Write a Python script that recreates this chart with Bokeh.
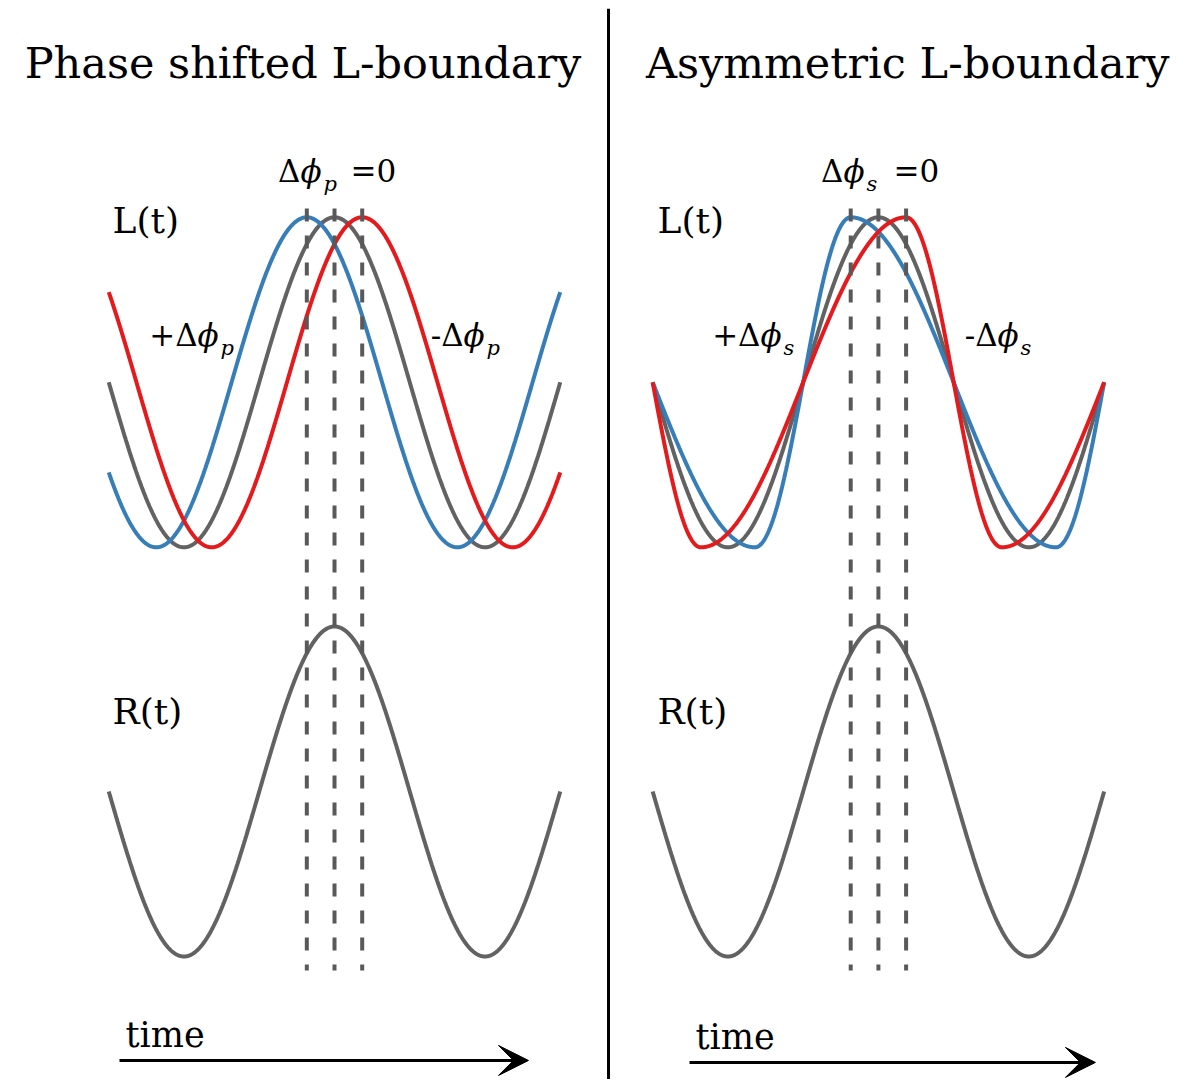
import numpy as np
from bokeh.plotting import figure
from bokeh.models import Range1d, Span, Arrow, VeeHead, Label
from bokeh.embed import file_html
from bokeh.resources import INLINE

# ---------------- data (time in periods, amplitude in units) ----------------
panel_titles = ["Phase shifted L-boundary", "Asymmetric L-boundary"]
panel_offsets = [0.0, 1.807]          # time of the reference peak in each panel
panel_subscripts = ["p", "s"]
curve_names = ["reference", "+dphi", "-dphi"]
curve_colors = ["#626262", "#377eb8", "#e41a1c"]

# knot times of [peak, down-crossing, trough, up-crossing] for each L curve
shift_knots = [
    [0.000, 0.250, 0.500, 0.750],
    [-0.092, 0.158, 0.408, 0.658],
    [0.092, 0.342, 0.592, 0.842],
]
asym_knots = [
    [0.000, 0.250, 0.500, 0.750],
    [-0.092, 0.250, 0.590, 0.750],
    [0.092, 0.250, 0.410, 0.750],
]
panel_knots = [shift_knots, asym_knots]
r_knots = [0.000, 0.250, 0.500, 0.750]
peak_times = [-0.092, 0.0, 0.092]     # dashed marker lines
t_start, t_end = -0.75, 0.75
L_level = 2.48
R_level = 0.0

FONT = "DejaVu Serif"


def waveform(t, knots):
    kt, kp = [], []
    for k in range(-2, 3):
        for i, tk in enumerate(knots):
            kt.append(tk + k)
            kp.append(i * np.pi / 2 + 2 * np.pi * k)
    order = np.argsort(kt)
    phase = np.interp(t, np.array(kt)[order], np.array(kp)[order])
    return np.cos(phase)


p = figure(width=1192, height=1079,
           x_range=Range1d(-1.0831, 2.8505), y_range=Range1d(-1.7455, 4.7455),
           x_axis_type=None, y_axis_type=None,
           output_backend="svg", toolbar_location=None,
           min_border=0, min_border_left=8, min_border_top=8)
p.outline_line_color = None
p.background_fill_color = "white"
p.border_fill_color = "white"

t = np.linspace(t_start, t_end, 800)


def label(x, y, text, size, style="normal", align="left", xoff=0, yoff=0):
    p.add_layout(Label(x=x, y=y, text=text, text_font=FONT,
                       text_font_size=f"{size}px", text_font_style=style,
                       text_align=align, text_baseline="alphabetic",
                       x_offset=xoff, y_offset=yoff + round(0.38 * size),
                       text_color="black"))


MS = 31


def math_label(x, y, prefix, sub, suffix=""):
    if prefix:
        label(x, y, prefix, MS, align="right")
    label(x, y, "\u03d5", MS, style="italic")
    label(x, y, sub, 21, style="italic", xoff=23, yoff=-9)
    if suffix:
        label(x, y, suffix, MS, xoff=50)


for pi_, off in enumerate(panel_offsets):
    # L curves
    for knots, col in zip(panel_knots[pi_], curve_colors):
        p.line(t + off, L_level + waveform(t, knots), line_color=col, line_width=4)
    # R curve
    p.line(t + off, R_level + waveform(t, r_knots), line_color=curve_colors[0], line_width=4)
    # dashed marker lines
    xs = [off + pt for pt in peak_times]
    p.segment(x0=xs, y0=[3.533] * 3, x1=xs, y1=[-1.085] * 3,
              line_color="#595959", line_width=4, line_dash="13 14")

# divider
p.add_layout(Span(location=0.9103, dimension="height", line_color="black", line_width=3))

# titles
label(-0.1047, 4.3152, panel_titles[0], 43, align="center")
label(1.9043, 4.3152, panel_titles[1], 43, align="center")

# math labels
math_label(-0.113, 3.685, "\u0394", panel_subscripts[0], "=0")
math_label(1.691, 3.685, "\u0394", panel_subscripts[1], "=0")
math_label(-0.455, 2.691, "+\u0394", panel_subscripts[0])
math_label(0.4286, 2.691, "-\u0394", panel_subscripts[0])
math_label(1.4153, 2.691, "+\u0394", panel_subscripts[1])
math_label(2.2027, 2.691, "-\u0394", panel_subscripts[1])

# L(t), R(t)
for x in (-0.7375, 1.0731):
    label(x, 3.376, "L(t)", 36)
    label(x, 0.40, "R(t)", 36)

# time arrows
label(-0.6944, -1.5576, "time", 35)
label(1.1993, -1.5697, "time", 35)
for xs, xe, y in ((-0.7143, 0.6445, -1.630), (1.1794, 2.528, -1.642)):
    p.add_layout(Arrow(end=VeeHead(size=30, fill_color="black", line_color="black", line_width=1),
                       x_start=xs, y_start=y, x_end=xe, y_end=y,
                       line_color="black", line_width=3))

open("out.html", "w").write(file_html(p, INLINE))
